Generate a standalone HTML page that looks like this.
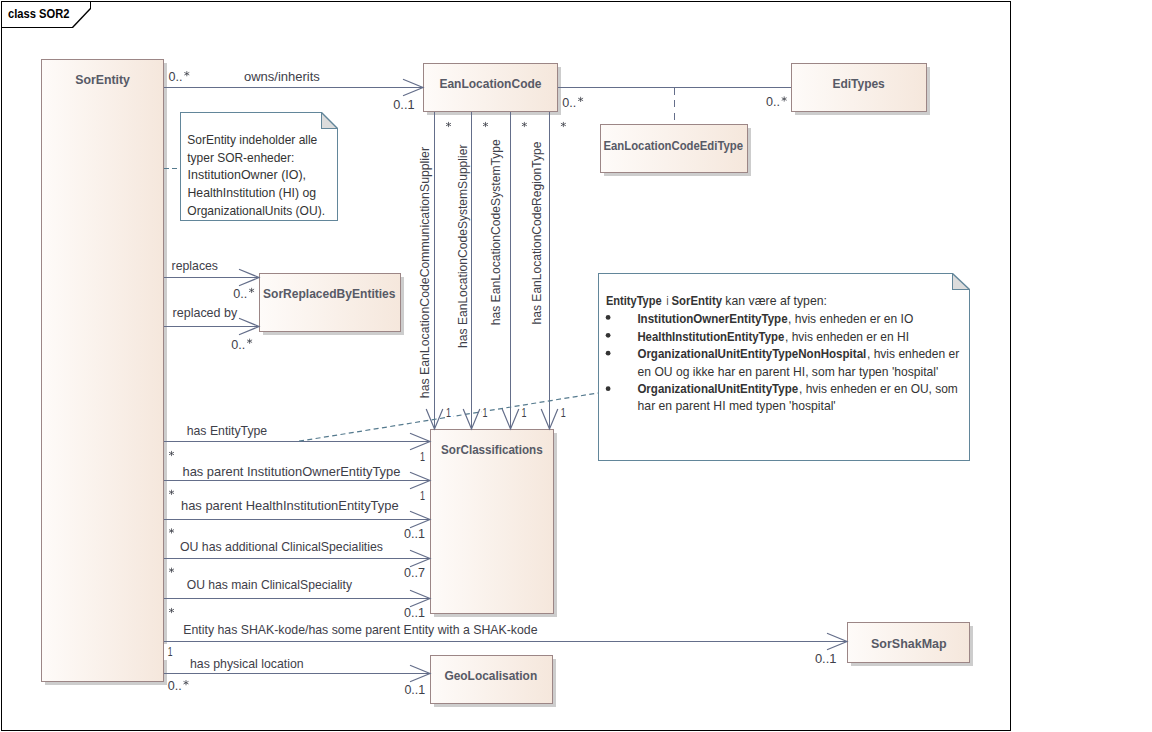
<!DOCTYPE html><html><head><meta charset="utf-8"><style>html,body{margin:0;padding:0;background:#fff;width:1152px;height:732px;overflow:hidden}svg{display:block;font-family:"Liberation Sans",sans-serif}</style></head><body>
<svg width="1152" height="732" viewBox="0 0 1152 732">
<defs><linearGradient id="g" x1="0" y1="0" x2="1" y2="0"><stop offset="0" stop-color="#fefbf9"/><stop offset="1" stop-color="#f5e7dc"/></linearGradient></defs>
<rect width="1152" height="732" fill="#fff"/>
<g shape-rendering="crispEdges">
<rect x="1.5" y="1.5" width="1009" height="729" fill="none" stroke="#000" stroke-width="1"/>
</g>
<path d="M1.5,27.5 H72.5" fill="none" stroke="#000" stroke-width="1" shape-rendering="crispEdges"/>
<path d="M90.5,1 V9" fill="none" stroke="#000" stroke-width="1" shape-rendering="crispEdges"/>
<path d="M72.5,27.5 L90.5,8.5" fill="none" stroke="#000" stroke-width="1.4"/>
<text x="8" y="18" font-size="12.5" font-weight="bold" fill="#000" textLength="61.5" lengthAdjust="spacingAndGlyphs">class SOR2</text>
<g shape-rendering="crispEdges">
<rect x="45" y="63" width="122" height="622" fill="#cdcdcd"/>
<rect x="41.5" y="59.5" width="122" height="622" fill="url(#g)" stroke="#9c8686" stroke-width="1"/>
<text x="75.2" y="84" font-size="12.5" font-weight="bold" fill="#575a66" textLength="54.7" lengthAdjust="spacingAndGlyphs">SorEntity</text>
<rect x="427" y="67" width="134" height="48" fill="#cdcdcd"/>
<rect x="423.5" y="63.5" width="134" height="48" fill="url(#g)" stroke="#9c8686" stroke-width="1"/>
<text x="439.4" y="88" font-size="12.5" font-weight="bold" fill="#575a66" textLength="102.1" lengthAdjust="spacingAndGlyphs">EanLocationCode</text>
<rect x="795" y="67" width="135" height="48" fill="#cdcdcd"/>
<rect x="791.5" y="63.5" width="135" height="48" fill="url(#g)" stroke="#9c8686" stroke-width="1"/>
<text x="832.4" y="88" font-size="12.5" font-weight="bold" fill="#575a66" textLength="52.4" lengthAdjust="spacingAndGlyphs">EdiTypes</text>
<rect x="604" y="128" width="147" height="48" fill="#cdcdcd"/>
<rect x="600.5" y="124.5" width="147" height="48" fill="url(#g)" stroke="#9c8686" stroke-width="1"/>
<text x="603.5" y="149.7" font-size="12.5" font-weight="bold" fill="#575a66" textLength="139.5" lengthAdjust="spacingAndGlyphs">EanLocationCodeEdiType</text>
<rect x="263" y="277" width="141" height="58" fill="#cdcdcd"/>
<rect x="259.5" y="273.5" width="141" height="58" fill="url(#g)" stroke="#9c8686" stroke-width="1"/>
<text x="263" y="298" font-size="12.5" font-weight="bold" fill="#575a66" textLength="132.5" lengthAdjust="spacingAndGlyphs">SorReplacedByEntities</text>
<rect x="434" y="433" width="123" height="184" fill="#cdcdcd"/>
<rect x="430.5" y="429.5" width="123" height="184" fill="url(#g)" stroke="#9c8686" stroke-width="1"/>
<text x="441.1" y="454" font-size="12.5" font-weight="bold" fill="#575a66" textLength="101.6" lengthAdjust="spacingAndGlyphs">SorClassifications</text>
<rect x="851" y="626" width="122" height="40" fill="#cdcdcd"/>
<rect x="847.5" y="622.5" width="122" height="40" fill="url(#g)" stroke="#9c8686" stroke-width="1"/>
<text x="871" y="648" font-size="12.5" font-weight="bold" fill="#575a66" textLength="75.6" lengthAdjust="spacingAndGlyphs">SorShakMap</text>
<rect x="434" y="659" width="122" height="48" fill="#cdcdcd"/>
<rect x="430.5" y="655.5" width="122" height="48" fill="url(#g)" stroke="#9c8686" stroke-width="1"/>
<text x="444.4" y="680" font-size="12.5" font-weight="bold" fill="#575a66" textLength="92.8" lengthAdjust="spacingAndGlyphs">GeoLocalisation</text>
</g>
<path d="M180.5,112.5 H321.5 L337.5,128.5 V220.5 H180.5 Z" fill="#fff" stroke="none"/>
<path d="M321.5,112.5 V128.5 H337.5 Z" fill="#dcdcdc" stroke="none"/>
<path d="M321.5,112.5 H180.5 V220.5 H337.5 V128.5 H321.5 Z" fill="none" stroke="#62869a" stroke-width="1" shape-rendering="crispEdges"/>
<line x1="321.5" y1="112.5" x2="337.5" y2="128.5" stroke="#62869a" stroke-width="1.5"/>
<path d="M598.5,273.5 H952.5 L969.5,289.5 V460.5 H598.5 Z" fill="#fff" stroke="none"/>
<path d="M952.5,273.5 V289.5 H969.5 Z" fill="#dcdcdc" stroke="none"/>
<path d="M952.5,273.5 H598.5 V460.5 H969.5 V289.5 H952.5 Z" fill="none" stroke="#62869a" stroke-width="1" shape-rendering="crispEdges"/>
<line x1="952.5" y1="273.5" x2="969.5" y2="289.5" stroke="#62869a" stroke-width="1.5"/>
<g shape-rendering="crispEdges">
<line x1="164" y1="87.5" x2="423" y2="87.5" stroke="#646e8a" stroke-width="1"/>
<line x1="558" y1="87.5" x2="791" y2="87.5" stroke="#646e8a" stroke-width="1"/>
<line x1="674.5" y1="88" x2="674.5" y2="124" stroke="#646e8a" stroke-width="1" stroke-dasharray="7,5.3"/>
<line x1="164" y1="168.5" x2="180" y2="168.5" stroke="#557a8e" stroke-width="1" stroke-dasharray="5,3.4"/>
<line x1="164" y1="277.5" x2="259" y2="277.5" stroke="#646e8a" stroke-width="1"/>
<line x1="164" y1="326.5" x2="259" y2="326.5" stroke="#646e8a" stroke-width="1"/>
<line x1="434.5" y1="112" x2="434.5" y2="429" stroke="#646e8a" stroke-width="1"/>
<line x1="471.5" y1="112" x2="471.5" y2="429" stroke="#646e8a" stroke-width="1"/>
<line x1="510.5" y1="112" x2="510.5" y2="429" stroke="#646e8a" stroke-width="1"/>
<line x1="549.5" y1="112" x2="549.5" y2="429" stroke="#646e8a" stroke-width="1"/>
<line x1="164" y1="441.5" x2="430" y2="441.5" stroke="#646e8a" stroke-width="1"/>
<line x1="164" y1="480.5" x2="430" y2="480.5" stroke="#646e8a" stroke-width="1"/>
<line x1="164" y1="519.5" x2="430" y2="519.5" stroke="#646e8a" stroke-width="1"/>
<line x1="164" y1="558.5" x2="430" y2="558.5" stroke="#646e8a" stroke-width="1"/>
<line x1="164" y1="598.5" x2="430" y2="598.5" stroke="#646e8a" stroke-width="1"/>
<line x1="164" y1="641.5" x2="847" y2="641.5" stroke="#646e8a" stroke-width="1"/>
<line x1="164" y1="673.5" x2="430" y2="673.5" stroke="#646e8a" stroke-width="1"/>
</g>
<line x1="299" y1="441.2" x2="598" y2="393.0" stroke="#557a8e" stroke-width="1.2" stroke-dasharray="5,3.4"/>
<rect x="445.1" y="407" width="8" height="11" fill="#fff"/>
<rect x="481.4" y="407" width="8" height="11" fill="#fff"/>
<rect x="520.6" y="407" width="8" height="11" fill="#fff"/>
<rect x="559.8" y="407" width="8" height="11" fill="#fff"/>
<polyline points="403,79.2 423,87.5 403,95.8" fill="none" stroke="#646e8a" stroke-width="1.2"/>
<polyline points="239,269.2 259,277.5 239,285.8" fill="none" stroke="#646e8a" stroke-width="1.2"/>
<polyline points="239,318.2 259,326.5 239,334.8" fill="none" stroke="#646e8a" stroke-width="1.2"/>
<polyline points="426.2,409 434.5,429 442.8,409" fill="none" stroke="#646e8a" stroke-width="1.2"/>
<polyline points="463.2,409 471.5,429 479.8,409" fill="none" stroke="#646e8a" stroke-width="1.2"/>
<polyline points="502.2,409 510.5,429 518.8,409" fill="none" stroke="#646e8a" stroke-width="1.2"/>
<polyline points="541.2,409 549.5,429 557.8,409" fill="none" stroke="#646e8a" stroke-width="1.2"/>
<polyline points="410,433.2 430,441.5 410,449.8" fill="none" stroke="#646e8a" stroke-width="1.2"/>
<polyline points="410,472.2 430,480.5 410,488.8" fill="none" stroke="#646e8a" stroke-width="1.2"/>
<polyline points="410,511.2 430,519.5 410,527.8" fill="none" stroke="#646e8a" stroke-width="1.2"/>
<polyline points="410,550.2 430,558.5 410,566.8" fill="none" stroke="#646e8a" stroke-width="1.2"/>
<polyline points="410,590.2 430,598.5 410,606.8" fill="none" stroke="#646e8a" stroke-width="1.2"/>
<polyline points="827,633.2 847,641.5 827,649.8" fill="none" stroke="#646e8a" stroke-width="1.2"/>
<polyline points="410,665.2 430,673.5 410,681.8" fill="none" stroke="#646e8a" stroke-width="1.2"/>
<text x="168.5" y="81" font-size="13" fill="#3e4049" textLength="14.0" lengthAdjust="spacingAndGlyphs">0..</text>
<path d="M186.8,71.10000000000001 V76.3 M184.3,72.4 L189.3,75.0 M184.3,75.0 L189.3,72.4" stroke="#3e4049" stroke-width="0.9" fill="none" opacity="0.85"/>
<text x="243.9" y="80.7" font-size="13" fill="#3e4049" textLength="76.0" lengthAdjust="spacingAndGlyphs">owns/inherits</text>
<text x="393.3" y="108.7" font-size="13" fill="#3e4049" textLength="21.2" lengthAdjust="spacingAndGlyphs">0..1</text>
<text x="562.3" y="106.7" font-size="13" fill="#3e4049" textLength="14.0" lengthAdjust="spacingAndGlyphs">0..</text>
<path d="M580.5999999999999,96.80000000000001 V102.0 M578.0999999999999,98.10000000000001 L583.0999999999999,100.7 M578.0999999999999,100.7 L583.0999999999999,98.10000000000001" stroke="#3e4049" stroke-width="0.9" fill="none" opacity="0.85"/>
<text x="765.9" y="106.3" font-size="13" fill="#3e4049" textLength="14.0" lengthAdjust="spacingAndGlyphs">0..</text>
<path d="M784.1999999999999,96.4 V101.6 M781.6999999999999,97.7 L786.6999999999999,100.3 M781.6999999999999,100.3 L786.6999999999999,97.7" stroke="#3e4049" stroke-width="0.9" fill="none" opacity="0.85"/>
<text x="171.6" y="269.6" font-size="13" fill="#3e4049" textLength="46.4" lengthAdjust="spacingAndGlyphs">replaces</text>
<text x="233.3" y="297.7" font-size="13" fill="#3e4049" textLength="14.0" lengthAdjust="spacingAndGlyphs">0..</text>
<path d="M251.60000000000002,287.79999999999995 V293.0 M249.10000000000002,289.09999999999997 L254.10000000000002,291.7 M249.10000000000002,291.7 L254.10000000000002,289.09999999999997" stroke="#3e4049" stroke-width="0.9" fill="none" opacity="0.85"/>
<text x="172.6" y="316.5" font-size="13" fill="#3e4049" textLength="64.6" lengthAdjust="spacingAndGlyphs">replaced by</text>
<text x="231.3" y="348.5" font-size="13" fill="#3e4049" textLength="14.0" lengthAdjust="spacingAndGlyphs">0..</text>
<path d="M249.60000000000002,338.59999999999997 V343.8 M247.10000000000002,339.9 L252.10000000000002,342.5 M247.10000000000002,342.5 L252.10000000000002,339.9" stroke="#3e4049" stroke-width="0.9" fill="none" opacity="0.85"/>
<path d="M448.5,121.9 V127.1 M446.0,123.2 L451.0,125.8 M446.0,125.8 L451.0,123.2" stroke="#3e4049" stroke-width="0.9" fill="none" opacity="0.85"/>
<path d="M485.5,121.9 V127.1 M483.0,123.2 L488.0,125.8 M483.0,125.8 L488.0,123.2" stroke="#3e4049" stroke-width="0.9" fill="none" opacity="0.85"/>
<path d="M524.4,121.9 V127.1 M521.9,123.2 L526.9,125.8 M521.9,125.8 L526.9,123.2" stroke="#3e4049" stroke-width="0.9" fill="none" opacity="0.85"/>
<path d="M563.4,121.9 V127.1 M560.9,123.2 L565.9,125.8 M560.9,125.8 L565.9,123.2" stroke="#3e4049" stroke-width="0.9" fill="none" opacity="0.85"/>
<text transform="translate(428.9,398.2) rotate(-90)" x="0" y="0" font-size="13" fill="#3e4049" textLength="251.2" lengthAdjust="spacingAndGlyphs">has EanLocationCodeCommunicationSupplier</text>
<text transform="translate(466.6,347.9) rotate(-90)" x="0" y="0" font-size="13" fill="#3e4049" textLength="203.3" lengthAdjust="spacingAndGlyphs">has EanLocationCodeSystemSupplier</text>
<text transform="translate(500,325.3) rotate(-90)" x="0" y="0" font-size="13" fill="#3e4049" textLength="186.1" lengthAdjust="spacingAndGlyphs">has EanLocationCodeSystemType</text>
<text transform="translate(541.1,324.4) rotate(-90)" x="0" y="0" font-size="13" fill="#3e4049" textLength="182.8" lengthAdjust="spacingAndGlyphs">has EanLocationCodeRegionType</text>
<text x="446.1" y="416.7" font-size="13" fill="#3e4049" textLength="5.0" lengthAdjust="spacingAndGlyphs">1</text>
<text x="482.4" y="416.7" font-size="13" fill="#3e4049" textLength="5.0" lengthAdjust="spacingAndGlyphs">1</text>
<text x="521.6" y="416.7" font-size="13" fill="#3e4049" textLength="5.0" lengthAdjust="spacingAndGlyphs">1</text>
<text x="560.8" y="416.7" font-size="13" fill="#3e4049" textLength="5.0" lengthAdjust="spacingAndGlyphs">1</text>
<text x="186.7" y="434.6" font-size="13" fill="#3e4049" textLength="80.5" lengthAdjust="spacingAndGlyphs">has EntityType</text>
<path d="M171.5,450.9 V456.1 M169.0,452.2 L174.0,454.8 M169.0,454.8 L174.0,452.2" stroke="#3e4049" stroke-width="0.9" fill="none" opacity="0.85"/>
<text x="420" y="460.5" font-size="13" fill="#3e4049" textLength="5.0" lengthAdjust="spacingAndGlyphs">1</text>
<text x="182.5" y="475.5" font-size="13" fill="#3e4049" textLength="217.9" lengthAdjust="spacingAndGlyphs">has parent InstitutionOwnerEntityType</text>
<path d="M171.5,489.7 V494.90000000000003 M169.0,491.0 L174.0,493.6 M169.0,493.6 L174.0,491.0" stroke="#3e4049" stroke-width="0.9" fill="none" opacity="0.85"/>
<text x="420" y="499.6" font-size="13" fill="#3e4049" textLength="5.0" lengthAdjust="spacingAndGlyphs">1</text>
<text x="181" y="509.8" font-size="13" fill="#3e4049" textLength="217.6" lengthAdjust="spacingAndGlyphs">has parent HealthInstitutionEntityType</text>
<path d="M171.5,528.3 V533.5 M169.0,529.6 L174.0,532.1999999999999 M169.0,532.1999999999999 L174.0,529.6" stroke="#3e4049" stroke-width="0.9" fill="none" opacity="0.85"/>
<text x="404" y="537.7" font-size="13" fill="#3e4049" textLength="21.0" lengthAdjust="spacingAndGlyphs">0..1</text>
<text x="180" y="550.7" font-size="13" fill="#3e4049" textLength="203.0" lengthAdjust="spacingAndGlyphs">OU has additional ClinicalSpecialities</text>
<path d="M171.5,567.6 V572.8000000000001 M169.0,568.9000000000001 L174.0,571.5 M169.0,571.5 L174.0,568.9000000000001" stroke="#3e4049" stroke-width="0.9" fill="none" opacity="0.85"/>
<text x="404" y="577.4" font-size="13" fill="#3e4049" textLength="21.0" lengthAdjust="spacingAndGlyphs">0..7</text>
<text x="186.7" y="588.8" font-size="13" fill="#3e4049" textLength="165.3" lengthAdjust="spacingAndGlyphs">OU has main ClinicalSpeciality</text>
<path d="M171.5,607.9 V613.1 M169.0,609.2 L174.0,611.8 M169.0,611.8 L174.0,609.2" stroke="#3e4049" stroke-width="0.9" fill="none" opacity="0.85"/>
<text x="404" y="617.4" font-size="13" fill="#3e4049" textLength="21.0" lengthAdjust="spacingAndGlyphs">0..1</text>
<text x="183.3" y="633.6" font-size="13" fill="#3e4049" textLength="354.2" lengthAdjust="spacingAndGlyphs">Entity has SHAK-kode/has some parent Entity with a SHAK-kode</text>
<rect x="164" y="644" width="10" height="16" fill="#fff"/>
<text x="167.7" y="656" font-size="13" fill="#3e4049" textLength="4.8" lengthAdjust="spacingAndGlyphs">1</text>
<text x="190" y="667.5" font-size="13" fill="#3e4049" textLength="113.6" lengthAdjust="spacingAndGlyphs">has physical location</text>
<text x="167.7" y="690" font-size="13" fill="#3e4049" textLength="14.0" lengthAdjust="spacingAndGlyphs">0..</text>
<path d="M186.0,680.1 V685.3000000000001 M183.5,681.4000000000001 L188.5,684.0 M183.5,684.0 L188.5,681.4000000000001" stroke="#3e4049" stroke-width="0.9" fill="none" opacity="0.85"/>
<text x="814.9" y="662.6" font-size="13" fill="#3e4049" textLength="21.6" lengthAdjust="spacingAndGlyphs">0..1</text>
<text x="404.4" y="693.9" font-size="13" fill="#3e4049" textLength="20.8" lengthAdjust="spacingAndGlyphs">0..1</text>
<text x="187.3" y="144.3" font-size="13" fill="#333333" textLength="130.0" lengthAdjust="spacingAndGlyphs">SorEntity indeholder alle</text>
<text x="187.3" y="161.6" font-size="13" fill="#333333" textLength="107.0" lengthAdjust="spacingAndGlyphs">typer SOR-enheder:</text>
<text x="187.5" y="179.3" font-size="13" fill="#333333" textLength="118.6" lengthAdjust="spacingAndGlyphs">InstitutionOwner (IO),</text>
<text x="187.5" y="197" font-size="13" fill="#333333" textLength="128.5" lengthAdjust="spacingAndGlyphs">HealthInstitution (HI) og</text>
<text x="187.3" y="214.6" font-size="13" fill="#333333" textLength="137.7" lengthAdjust="spacingAndGlyphs">OrganizationalUnits (OU).</text>
<text x="605.9" y="305.1" font-size="13" font-weight="bold" fill="#333333" textLength="55.8" lengthAdjust="spacingAndGlyphs">EntityType</text>
<text x="666.5" y="305.1" font-size="13" fill="#333333" textLength="2.0" lengthAdjust="spacingAndGlyphs">i</text>
<text x="671.5" y="305.1" font-size="13" font-weight="bold" fill="#333333" textLength="50.5" lengthAdjust="spacingAndGlyphs">SorEntity</text>
<text x="725.3" y="305.1" font-size="13" fill="#333333" textLength="101.7" lengthAdjust="spacingAndGlyphs">kan være af typen:</text>
<circle cx="608.1" cy="317.4" r="2.4" fill="#333"/>
<circle cx="608.1" cy="335.3" r="2.4" fill="#333"/>
<circle cx="608.1" cy="353.2" r="2.4" fill="#333"/>
<circle cx="608.1" cy="388.7" r="2.4" fill="#333"/>
<text x="637.4" y="323.0" font-size="13" font-weight="bold" fill="#333333" textLength="150.2" lengthAdjust="spacingAndGlyphs">InstitutionOwnerEntityType</text>
<text x="788" y="323.0" font-size="13" fill="#333333" textLength="125.3" lengthAdjust="spacingAndGlyphs">, hvis enheden er en IO</text>
<text x="637.4" y="340.9" font-size="13" font-weight="bold" fill="#333333" textLength="146.9" lengthAdjust="spacingAndGlyphs">HealthInstitutionEntityType</text>
<text x="785" y="340.9" font-size="13" fill="#333333" textLength="124.0" lengthAdjust="spacingAndGlyphs">, hvis enheden er en HI</text>
<text x="637.4" y="358.0" font-size="13" font-weight="bold" fill="#333333" textLength="228.9" lengthAdjust="spacingAndGlyphs">OrganizationalUnitEntityTypeNonHospital</text>
<text x="867" y="358.0" font-size="13" fill="#333333" textLength="92.2" lengthAdjust="spacingAndGlyphs">, hvis enheden er</text>
<text x="637.6" y="375.6" font-size="13" fill="#333333" textLength="300.7" lengthAdjust="spacingAndGlyphs">en OU og ikke har en parent HI, som har typen 'hospital'</text>
<text x="637.4" y="393.4" font-size="13" font-weight="bold" fill="#333333" textLength="160.8" lengthAdjust="spacingAndGlyphs">OrganizationalUnitEntityType</text>
<text x="799" y="393.4" font-size="13" fill="#333333" textLength="158.8" lengthAdjust="spacingAndGlyphs">, hvis enheden er en OU, som</text>
<text x="637.6" y="410.3" font-size="13" fill="#333333" textLength="198.1" lengthAdjust="spacingAndGlyphs">har en parent HI med typen 'hospital'</text>
</svg></body></html>
